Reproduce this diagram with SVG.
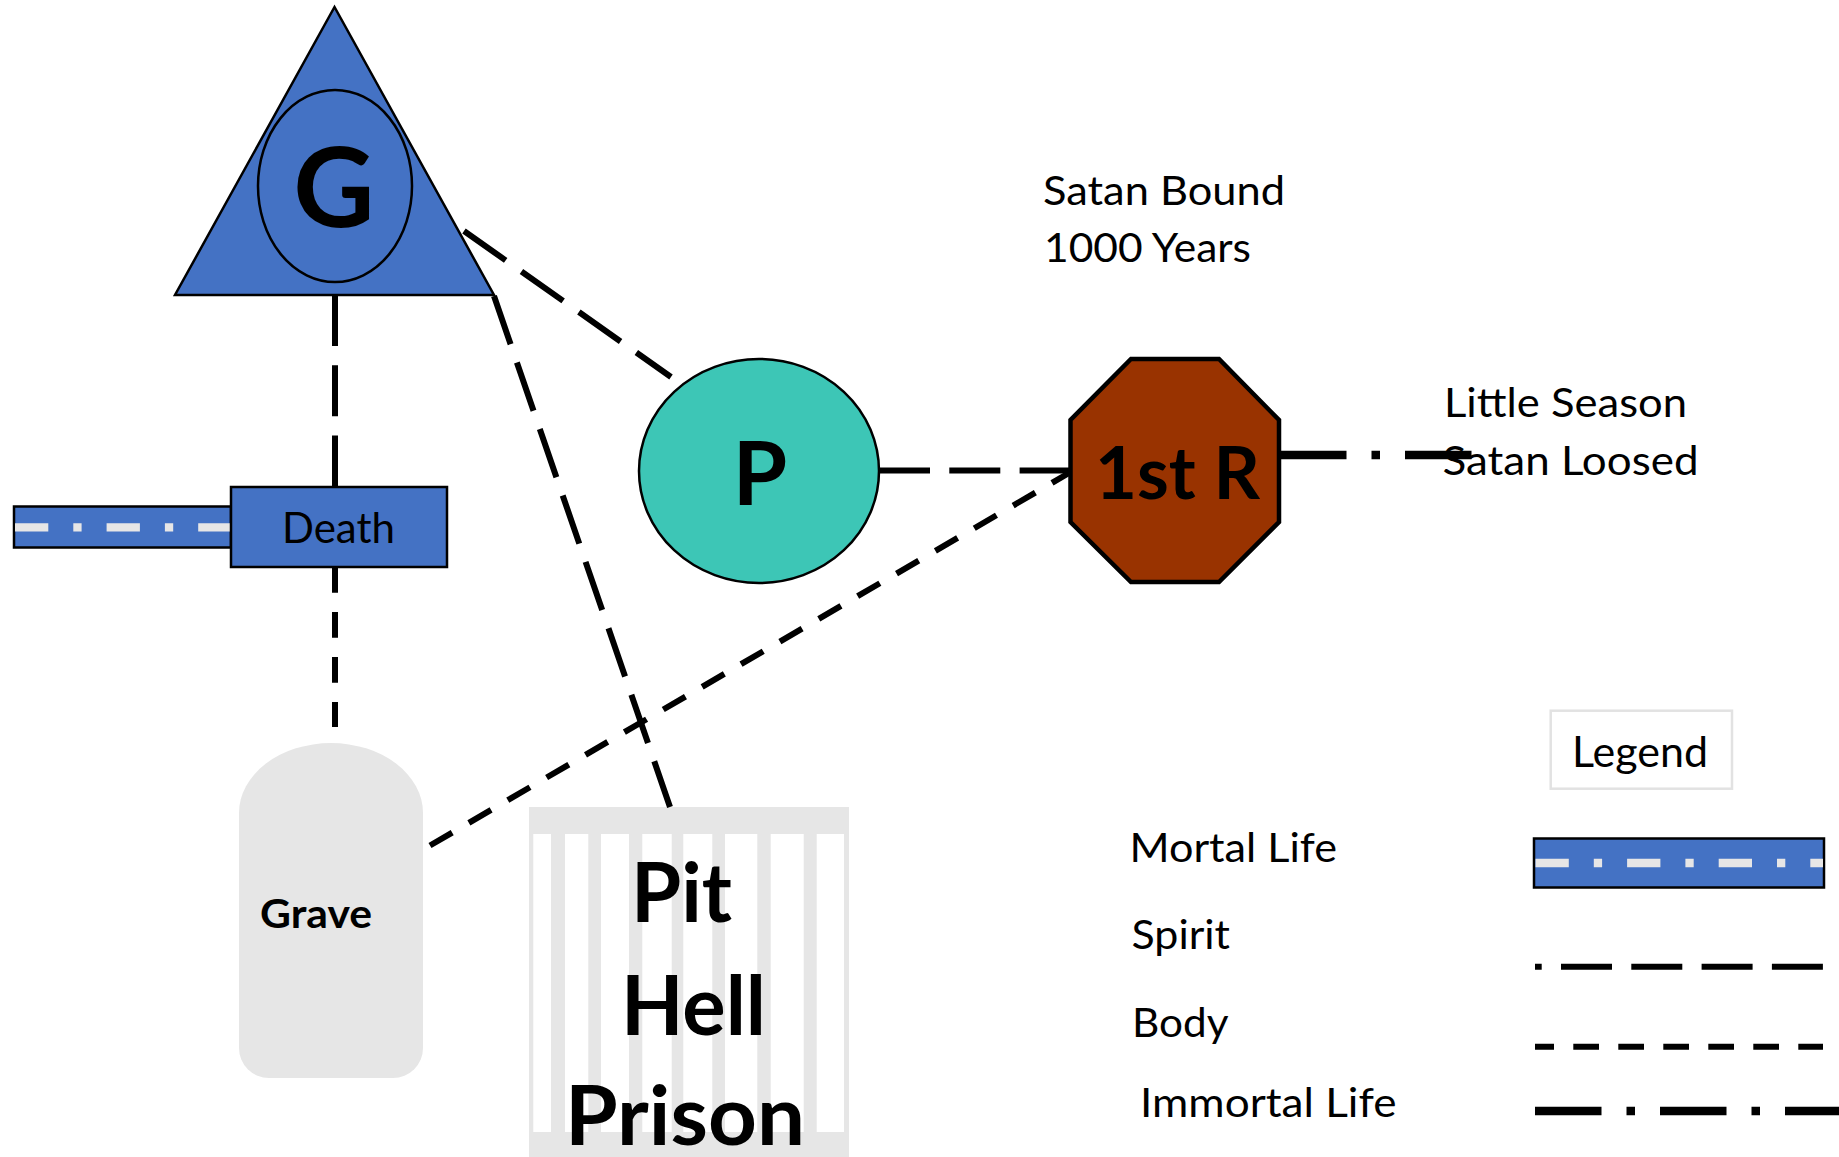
<svg xmlns="http://www.w3.org/2000/svg" width="1839" height="1157" viewBox="0 0 1839 1157">
<style>
text { font-family: Lato, "Liberation Sans", sans-serif; fill:#000; }
.b { font-weight:bold; }
.spirit { stroke:#000; stroke-width:6; stroke-dasharray:51 19.3; fill:none; }
.body { stroke:#000; stroke-width:6; stroke-dasharray:25.7 19.3; fill:none; }
.immortal { stroke:#000; stroke-width:8.5; stroke-dasharray:66.5 25 8.5 25; fill:none; }
.mortal { fill:#4472C4; stroke:#000; stroke-width:2.5; }
.mortaldash { stroke:#E7E6E6; stroke-width:8.3; stroke-dasharray:33.3 25 8.3 25; fill:none; }
.blue { fill:#4472C4; stroke:#000; stroke-width:2.5; }
.gray { fill:#E6E6E6; }
</style>
<rect x="0" y="0" width="1839" height="1157" fill="#fff"/>

<g id="mortal-life-bar">
<rect class="mortal" x="14" y="506.5" width="217" height="41"/>
<line class="mortaldash" x1="15" y1="527.3" x2="231" y2="527.3"/>
</g>

<g id="node-G">
<polygon class="blue" points="334.5,7 175,295 494,295"/>
<ellipse class="blue" cx="335" cy="186" rx="77" ry="96"/>
<text class="b" x="334" y="227" font-size="112" text-anchor="middle">G</text>
</g>

<g id="node-death">
<rect class="blue" x="231" y="487" width="216" height="80"/>
<text x="338.5" y="543" font-size="42" text-anchor="middle" textLength="113" lengthAdjust="spacingAndGlyphs">Death</text>
</g>

<g id="node-P">
<ellipse cx="759" cy="471" rx="120" ry="112" fill="#3DC6B6" stroke="#000" stroke-width="2.5"/>
<text class="b" x="760" y="505" font-size="88" text-anchor="middle">P</text>
</g>

<g id="node-1stR">
<polygon points="1131,359 1219,359 1279,420 1279,522 1219,582 1131,582 1070.5,522 1070.5,420" fill="#993300" stroke="#000" stroke-width="4.5"/>
<text class="b" x="1177.5" y="499" font-size="73" text-anchor="middle" textLength="165" lengthAdjust="spacingAndGlyphs">1st R</text>
</g>

<g id="node-grave">
<path class="gray" d="M239,813 A92,70 0 0 1 423,813 L423,1048 A30,30 0 0 1 393,1078 L269,1078 A30,30 0 0 1 239,1048 Z"/>
<text class="b" x="316" y="928" font-size="41" text-anchor="middle" textLength="112" lengthAdjust="spacingAndGlyphs">Grave</text>
</g>

<g id="node-pit">
<rect class="gray" x="529" y="807" width="320" height="350"/>
<g fill="#fff">
<rect x="533.3" y="834" width="17.7" height="298"/>
<rect x="565" y="834" width="23.3" height="298"/>
<rect x="601" y="834" width="28" height="298"/>
<rect x="642.3" y="834" width="29.4" height="298"/>
<rect x="683.3" y="834" width="29" height="298"/>
<rect x="725" y="834" width="32.3" height="298"/>
<rect x="770.7" y="834" width="33" height="298"/>
<rect x="816.7" y="834" width="27.3" height="298"/>
</g>
<text class="b" x="681.5" y="922" font-size="83" text-anchor="middle" textLength="101" lengthAdjust="spacingAndGlyphs">Pit</text>
<text class="b" x="693.5" y="1035" font-size="83" text-anchor="middle" textLength="145" lengthAdjust="spacingAndGlyphs">Hell</text>
<text class="b" x="685" y="1145" font-size="83" text-anchor="middle" textLength="240" lengthAdjust="spacingAndGlyphs">Prison</text>
</g>

<g id="connectors">
<line class="spirit" x1="335" y1="295" x2="335" y2="487"/>
<line class="spirit" x1="464" y1="231" x2="671" y2="377"/>
<line class="spirit" x1="494" y1="296" x2="670" y2="807"/>
<line class="spirit" x1="879" y1="470.5" x2="1070" y2="470.5"/>
<line class="body" x1="335" y1="567" x2="335" y2="727"/>
<line class="body" x1="430" y1="845.5" x2="1069" y2="473"/>
<line class="immortal" x1="1280" y1="455" x2="1472" y2="455"/>
</g>

<g id="label-satan-bound">
<text x="1043" y="205" font-size="40" textLength="242" lengthAdjust="spacingAndGlyphs">Satan Bound</text>
<text x="1044" y="262" font-size="40" textLength="207" lengthAdjust="spacingAndGlyphs">1000 Years</text>
</g>

<g id="label-little-season">
<text x="1444" y="417" font-size="40" textLength="243" lengthAdjust="spacingAndGlyphs">Little Season</text>
<text x="1442.5" y="475" font-size="40" textLength="256" lengthAdjust="spacingAndGlyphs">Satan Loosed</text>
</g>

<g id="legend">
<rect x="1550.7" y="710.7" width="181.3" height="78" fill="#fff" stroke="#E2E2E2" stroke-width="2.5"/>
<text x="1572" y="766.5" font-size="42" textLength="136" lengthAdjust="spacingAndGlyphs">Legend</text>
<text x="1129.5" y="862" font-size="41" textLength="207.5" lengthAdjust="spacingAndGlyphs">Mortal Life</text>
<text x="1131.5" y="949" font-size="41" textLength="98.5" lengthAdjust="spacingAndGlyphs">Spirit</text>
<text x="1132" y="1036.7" font-size="41" textLength="96.5" lengthAdjust="spacingAndGlyphs">Body</text>
<text x="1140" y="1116.7" font-size="41" textLength="256.5" lengthAdjust="spacingAndGlyphs">Immortal Life</text>
<rect class="mortal" x="1534" y="838.5" width="290" height="49"/>
<line class="mortaldash" x1="1535.5" y1="863" x2="1823" y2="863"/>
<line class="spirit" x1="1535" y1="966.7" x2="1823" y2="966.7" stroke-dashoffset="44.3"/>
<line class="body" x1="1535" y1="1046.7" x2="1823" y2="1046.7" stroke-dashoffset="6.7"/>
<line class="immortal" x1="1535" y1="1111" x2="1839" y2="1111"/>
</g>
</svg>
